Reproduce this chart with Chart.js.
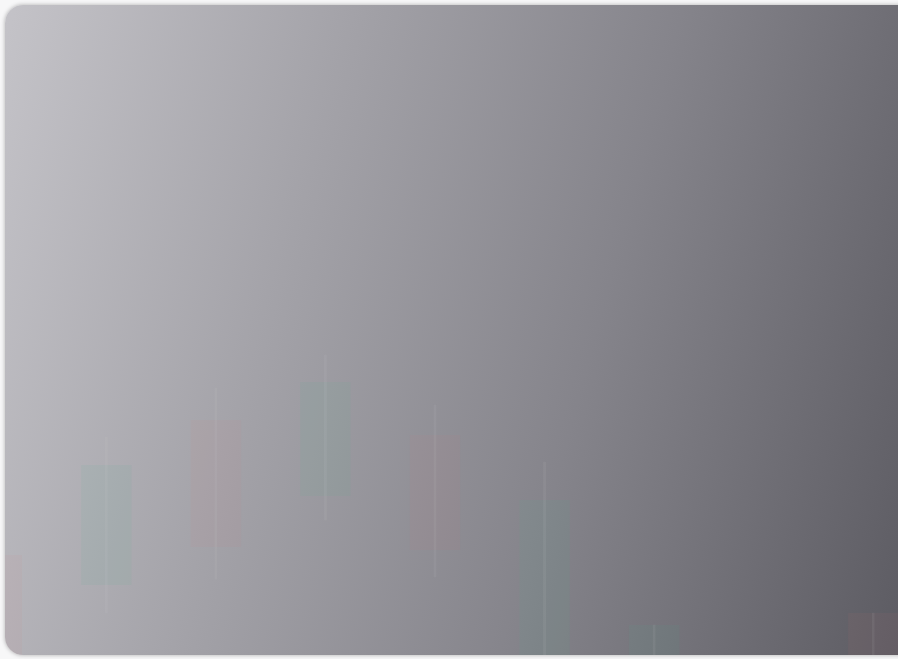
<!DOCTYPE html>
<html>
<head>
<meta charset="utf-8">
<script src="https://cdn.jsdelivr.net/npm/chart.js@4.4.1/dist/chart.umd.min.js"></script>
<style>
  html,body{margin:0;padding:0;background:#f7f7f8;width:898px;height:659px;overflow:hidden;}
  #card{position:absolute;left:5px;top:5px;width:920px;height:650px;border-radius:18px;overflow:hidden;
    background:linear-gradient(105deg,#c4c3c8 0%,#a2a1a7 33%,#85848b 62%,#5a5960 100%);
    box-shadow:0 0 4px rgba(0,0,0,0.3);}
  #wrap{position:absolute;left:-63px;top:-5px;width:986px;height:659px;}
</style>
</head>
<body>
<div id="card"><div id="wrap"><canvas id="c" width="986" height="659"></canvas></div></div>
<script>
const categories = ['D1','D2','D3','D4','D5','D6','D7','D8','D9'];
const openValues  = [110.4, 107.4, 123.9, 116.3, 122.4,  95.0,  90.0, 90.0, 104.6];
const closeValues = [ 98.0, 119.4, 111.2, 127.7, 110.9, 115.9, 103.4, 97.0,  92.0];
const highValues  = [112.0, 122.2, 127.1, 130.4, 125.4, 119.7, 103.4, 97.0, 104.6];
const lowValues   = [ 96.0, 104.6, 108.0, 113.9, 108.2,  92.0,  88.0, 88.0,  88.0];

const up = 'rgba(70,180,140,0.07)', down = 'rgba(225,120,120,0.06)';
const bodies = categories.map((_, i) => [openValues[i], closeValues[i]]);
const wicks = categories.map((_, i) => [lowValues[i], highValues[i]]);
const colors = categories.map((_, i) => closeValues[i] >= openValues[i] ? up : down);

new Chart(document.getElementById('c'), {
  type: 'bar',
  data: {
    labels: categories,
    datasets: [
      { data: wicks, backgroundColor: 'rgba(215,215,222,0.08)', barThickness: 2, grouped: false, order: 1 },
      { data: bodies, backgroundColor: colors, categoryPercentage: 1, barPercentage: 0.46, grouped: false, order: 2 }
    ]
  },
  options: {
    responsive: false, animation: false,
    layout: { padding: 0 },
    plugins: { legend: { display: false }, tooltip: { enabled: false } },
    scales: {
      x: { display: false, offset: true },
      y: { display: false, min: 100, max: 165.9 }
    }
  }
});
</script>
</body>
</html>
